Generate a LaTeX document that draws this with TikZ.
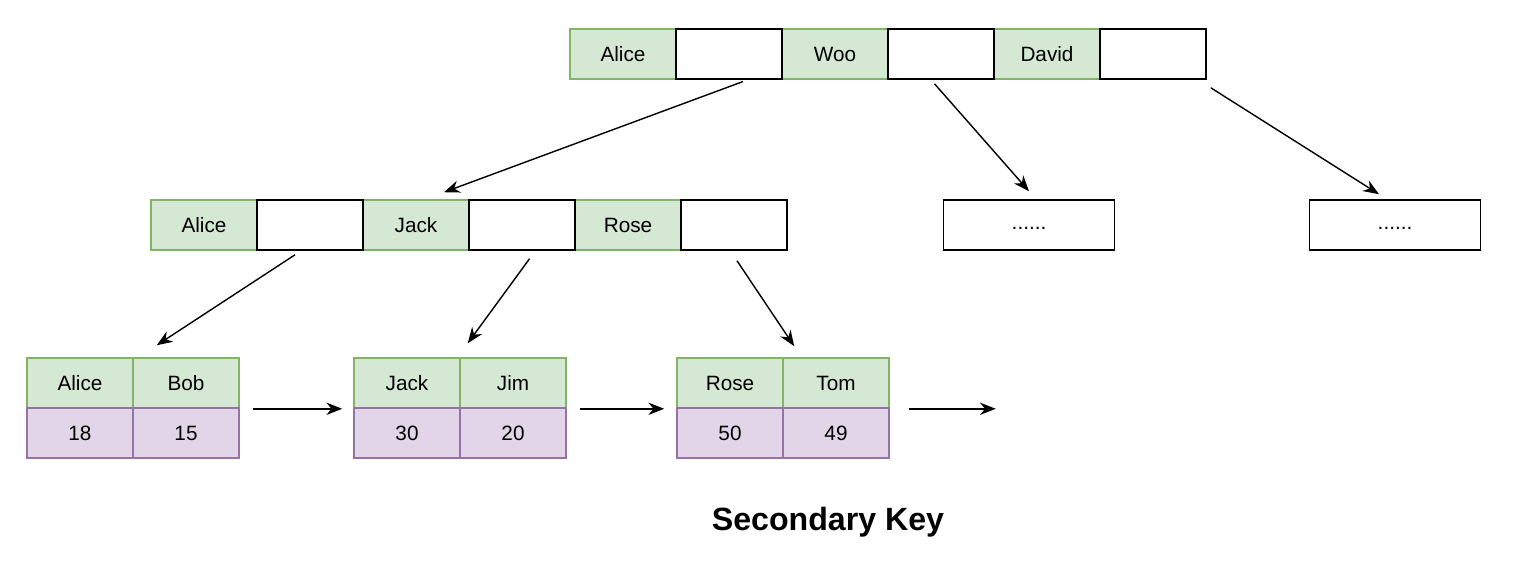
\documentclass[tikz,border=0pt]{standalone}
\usepackage{fontspec}
\setmainfont{Liberation Sans}
\usepackage{tikz}
\usetikzlibrary{arrows.meta,positioning}

\definecolor{keyfill}{HTML}{D5E8D4}
\definecolor{keyline}{HTML}{82B366}
\definecolor{valfill}{HTML}{E1D5E7}
\definecolor{valline}{HTML}{9673A6}

\tikzset{
  cell/.style={rectangle,minimum width=2.12cm,minimum height=1cm,inner sep=0pt,
    font=\fontsize{11.8}{13}\selectfont,line width=0.9pt},
  keycell/.style={cell,fill=keyfill,draw=keyline},
  valcell/.style={cell,fill=valfill,draw=valline},
  ptrcell/.style={cell,fill=white,draw=black},
  dotbox/.style={ptrcell,minimum width=3.42cm},
  link/.style={-{Stealth[length=9pt,width=7pt]},line width=0.8pt}
}

\begin{document}
\begin{tikzpicture}[x=0.02cm,y=-0.02cm]
  \useasboundingbox (0,0) rectangle (1513,562);

  % root
  \node[keycell] (tk1) at (623,54)  {Alice};
  \node[keycell] (tk2) at (835,54)  {Woo};
  \node[keycell] (tk3) at (1047,54) {David};
  \node[ptrcell] (tp1) at (729,54)  {};
  \node[ptrcell] (tp2) at (941,54)  {};
  \node[ptrcell] (tp3) at (1153,54) {};

  % inner level
  \node[keycell] (mk1) at (204,225) {Alice};
  \node[keycell] (mk2) at (416,225) {Jack};
  \node[keycell] (mk3) at (628,225) {Rose};
  \node[ptrcell] (mp1) at (310,225) {};
  \node[ptrcell] (mp2) at (522,225) {};
  \node[ptrcell] (mp3) at (734,225) {};
  \node[dotbox]  (d1)  at (1029,225) {\vphantom{Ay}......};
  \node[dotbox]  (d2)  at (1395,225) {\vphantom{Ay}......};

  % leaves
  \node[keycell] (la1) at (80,383)  {Alice};
  \node[keycell] (la2) at (186,383) {Bob};
  \node[valcell] (va1) at (80,433)  {18};
  \node[valcell] (va2) at (186,433) {15};

  \node[keycell] (lb1) at (407,383) {Jack};
  \node[keycell] (lb2) at (513,383) {Jim};
  \node[valcell] (vb1) at (407,433) {30};
  \node[valcell] (vb2) at (513,433) {20};

  \node[keycell] (lc1) at (730,383) {Rose};
  \node[keycell] (lc2) at (836,383) {Tom};
  \node[valcell] (vc1) at (730,433) {50};
  \node[valcell] (vc2) at (836,433) {49};

  \coordinate (nxt) at ([xshift=2.12cm]lc2.south east);

  % tree links
  \draw[link] ([xshift=0.28cm,yshift=-1pt]tp1.south) -- ([xshift=0.56cm,yshift=0.14cm]mk2.north);
  \draw[link] ([xshift=-0.13cm,yshift=-0.08cm]tp2.south) -- ([yshift=0.16cm]d1.north);
  \draw[link] ([xshift=0.08cm,yshift=-0.16cm]tp3.south east) -- ([xshift=-0.32cm,yshift=0.1cm]d2.north);

  \draw[link] ([xshift=-0.3cm,yshift=-0.08cm]mp1.south) -- ([xshift=0.46cm,yshift=0.24cm]la1.north east);
  \draw[link] ([xshift=0.15cm,yshift=-0.16cm]mp2.south) -- ([xshift=0.14cm,yshift=0.28cm]lb1.north east);
  \draw[link] ([xshift=0.06cm,yshift=-0.2cm]mp3.south) -- ([xshift=0.24cm,yshift=0.22cm]lc2.north west);

  % leaf chain
  \draw[link] ([xshift=0.26cm]la2.south east) -- ([xshift=-0.22cm]lb1.south west);
  \draw[link] ([xshift=0.26cm]lb2.south east) -- ([xshift=-0.24cm]lc1.south west);
  \draw[link] ([xshift=0.38cm]lc2.south east) -- (nxt);

  \node[font=\fontsize{18.3}{21}\selectfont\bfseries] (title) at (828,522) {Secondary Key};
\end{tikzpicture}
\end{document}
